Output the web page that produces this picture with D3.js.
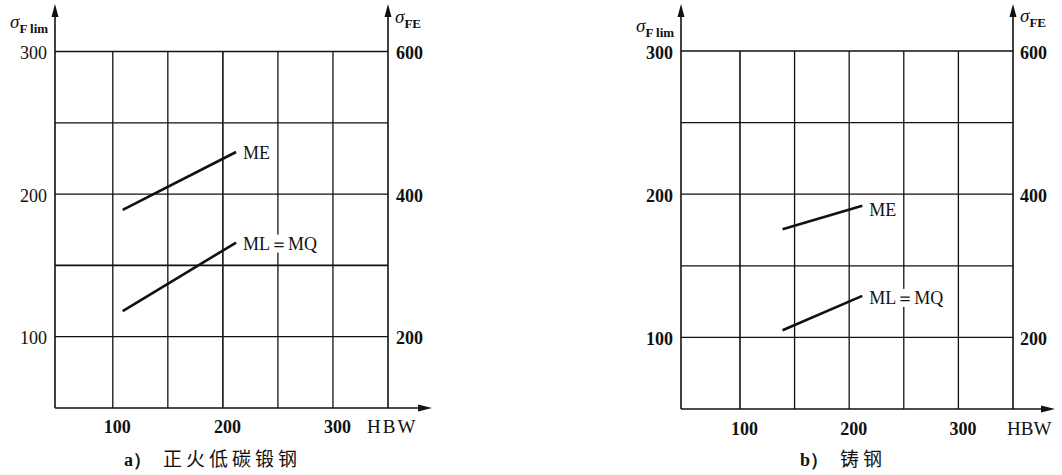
<!DOCTYPE html>
<html>
<head>
<meta charset="utf-8">
<script src="https://cdn.jsdelivr.net/npm/d3@7"></script>
<style>
  html, body { margin: 0; padding: 0; background: #fff; }
  svg { display: block; }
</style>
</head>
<body>
<svg id="chart" width="1062" height="475"></svg>
<script>
// Hardness (HBW) tick labels and grid positions
const hbwTicks = [100, 200, 300];
const hbwGrid = [100, 150, 200, 250, 300];
// Bending fatigue limit σFlim (left axis) and σFE (right axis) ticks
const sigmaLimTicks = [100, 200, 300];
const sigmaLimGrid = [100, 150, 200, 250, 300];
const sigmaFETicks = [200, 400, 600];

// a) normalized low-carbon forged steel: [HBW, σFlim]
const forgedME = [[109, 189], [212, 229.5]];
const forgedMLMQ = [[109, 118], [212, 166]];
// b) cast steel: [HBW, σFlim]
const castME = [[139, 175.5], [212, 192]];
const castMLMQ = [[139, 105], [212, 129]];

const seriesNames = ["ME", "ML\uFF1DMQ"];

const SERIF = "Liberation Serif";
const CJK = "Noto Sans CJK SC";
const svg = d3.select("#chart");
const ink = "#111";

function serif(sel, size, weight) {
  return sel.attr("font-family", SERIF).attr("font-size", size)
    .attr("font-weight", weight || "normal").attr("fill", ink);
}

function drawPanel(cfg) {
  const x = d3.scaleLinear().domain(cfg.xDomain).range(cfg.xRange);
  const y = d3.scaleLinear().domain([50, 300]).range(cfg.yRange);
  const yFE = d3.scaleLinear().domain([100, 600]).range(cfg.yRange);
  const g = svg.append("g");

  const x0 = cfg.xRange[0], x1 = cfg.xRange[1];
  const yBot = cfg.yRange[0], yTop = y(300);

  // grid
  g.selectAll(".hgrid").data(sigmaLimGrid).join("line")
    .attr("x1", x0).attr("x2", x1)
    .attr("y1", d => y(d)).attr("y2", d => y(d))
    .attr("stroke", ink).attr("stroke-width", d => (cfg.thickH === d ? 1.8 : 1.3));
  g.selectAll(".vgrid").data(hbwGrid).join("line")
    .attr("x1", d => x(d)).attr("x2", d => x(d))
    .attr("y1", yBot).attr("y2", yTop)
    .attr("stroke", ink).attr("stroke-width", d => (cfg.thickV === d ? 1.6 : 1.3));

  // axis lines with arrowheads
  const arrowUp = (ax, tip) => `M${ax},${tip} L${ax - 3.5},${tip + 13} L${ax + 3.5},${tip + 13} Z`;
  g.append("line").attr("x1", x0).attr("x2", x0).attr("y1", yBot).attr("y2", 10)
    .attr("stroke", ink).attr("stroke-width", 1.6);
  g.append("path").attr("d", arrowUp(x0, 4)).attr("fill", ink);
  g.append("line").attr("x1", x1).attr("x2", x1).attr("y1", yBot).attr("y2", 10)
    .attr("stroke", ink).attr("stroke-width", 1.6);
  g.append("path").attr("d", arrowUp(x1, 4)).attr("fill", ink);
  g.append("line").attr("x1", x0).attr("x2", cfg.arrowX - 6).attr("y1", yBot).attr("y2", yBot)
    .attr("stroke", ink).attr("stroke-width", 1.6);
  g.append("path")
    .attr("d", `M${cfg.arrowX},${yBot} L${cfg.arrowX - 14},${yBot - 3.5} L${cfg.arrowX - 14},${yBot + 3.5} Z`)
    .attr("fill", ink);

  // tick labels via d3 axes
  const styleAxis = (sel, weight) => {
    serif(sel, 18, weight);
    sel.select(".domain").remove();
    sel.selectAll("line").remove();
    sel.selectAll("text").attr("fill", ink);
  };
  g.append("g").attr("transform", `translate(0,${yBot})`)
    .call(d3.axisBottom(x).tickValues(hbwTicks).tickSize(0).tickPadding(0).tickFormat(d3.format("d")))
    .call(s => styleAxis(s, "bold"))
    .call(s => s.selectAll("text").attr("y", 0).attr("dy", cfg.xLabelDy).attr("dx", 4));
  g.append("g").attr("transform", `translate(${x0},0)`)
    .call(d3.axisLeft(y).tickValues(sigmaLimTicks).tickSize(0).tickPadding(8).tickFormat(d3.format("d")))
    .call(s => styleAxis(s, cfg.leftBold ? "bold" : "normal"))
    .call(s => s.selectAll("text").attr("dy", "0.4em"));
  g.append("g").attr("transform", `translate(${x1},0)`)
    .call(d3.axisRight(yFE).tickValues(sigmaFETicks).tickSize(0).tickPadding(cfg.rightPad).tickFormat(d3.format("d")))
    .call(s => styleAxis(s, "bold"))
    .call(s => s.selectAll("text").attr("dy", "0.4em"));

  // axis titles
  serif(g.append("text"), 19)
    .attr("x", cfg.xTitle).attr("y", yBot + cfg.xLabelDy)
    .attr("letter-spacing", cfg.hbwSpacing)
    .text("HBW");

  const yTitle = serif(g.append("text"), 19)
    .attr("x", x0 - cfg.limOffset).attr("y", cfg.limBase);
  yTitle.append("tspan").attr("font-style", "italic").text("σ");
  yTitle.append("tspan").attr("dy", 5).attr("font-size", 13).attr("font-weight", "bold").text("F lim");

  const feTitle = serif(g.append("text"), 19)
    .attr("x", x1 + 7).attr("y", cfg.feBase);
  feTitle.append("tspan").attr("font-style", "italic").text("σ");
  feTitle.append("tspan").attr("dy", 5).attr("font-size", 13).attr("font-weight", "bold").text("FE");

  // curves
  const line = d3.line().x(d => x(d[0])).y(d => y(d[1]));
  [cfg.me, cfg.mlmq].forEach((data, i) => {
    g.append("path").datum(data).attr("d", line)
      .attr("fill", "none").attr("stroke", ink).attr("stroke-width", 2.6);
    const end = data[data.length - 1];
    const lbl = g.append("g");
    const t = serif(lbl.append("text"), 18)
      .attr("x", x(end[0]) + 7).attr("y", y(end[1]) + cfg.labelDy[i])
      .text(seriesNames[i]);
    const bb = t.node().getBBox();
    lbl.insert("rect", "text")
      .attr("x", bb.x - 1).attr("y", bb.y + 1).attr("width", bb.width + 2).attr("height", bb.height - 2)
      .attr("fill", "#fff");
  });

  // caption
  const cap = g.append("text").attr("x", cfg.capX).attr("y", 466).attr("fill", ink);
  serif(cap.append("tspan"), 18, "bold").text(cfg.capTag);
  cap.append("tspan").attr("dx", 12)
    .attr("font-family", CJK).attr("font-size", 19)
    .attr("letter-spacing", 4).text(cfg.capText);
}

drawPanel({
  xDomain: [47.5, 350], xRange: [55, 388], yRange: [408, 51.5],
  arrowX: 432, xTitle: 367, hbwSpacing: 2, xLabelDy: 25,
  limOffset: 45, limBase: 28, feBase: 23, rightPad: 8, leftBold: false,
  thickH: 150, thickV: 200,
  me: forgedME, mlmq: forgedMLMQ, labelDy: [7, 7],
  capX: 124, capTag: "a\uFF09", capText: "正火低碳锻钢"
});

drawPanel({
  xDomain: [46, 350], xRange: [681, 1013], yRange: [409, 51],
  arrowX: 1055, xTitle: 1007, hbwSpacing: 0, xLabelDy: 26,
  limOffset: 45, limBase: 32, feBase: 22, rightPad: 7, leftBold: true,
  thickH: null, thickV: 100,
  me: castME, mlmq: castMLMQ, labelDy: [10, 8],
  capX: 800, capTag: "b\uFF09", capText: "铸钢"
});
</script>
</body>
</html>
